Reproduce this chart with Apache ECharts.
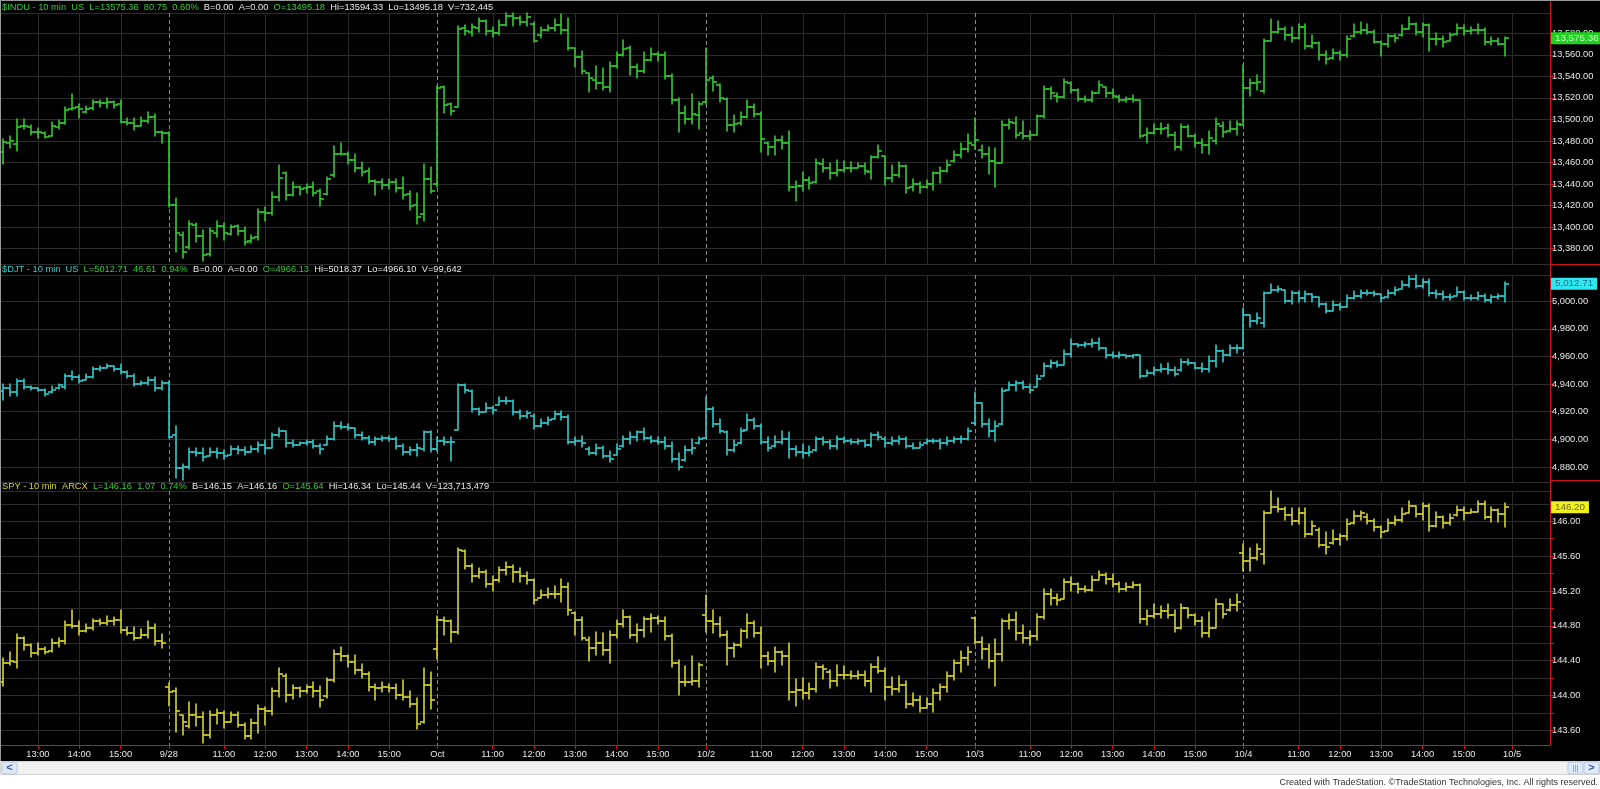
<!DOCTYPE html>
<html><head><meta charset="utf-8">
<script src="https://cdn.jsdelivr.net/npm/echarts@6/dist/echarts.min.js"></script>
<style>html,body{margin:0;padding:0;background:#000;overflow:hidden}#c{width:1600px;height:789px}</style>
</head><body><div id="c"></div>
<script>
// ---------- categories / tick labels ----------
const DAYS = ['9/27','9/28','Oct','10/2','10/3','10/4'];
const DAY_FIRST_MIN = [730, 580, 580, 580, 580, 580]; // 12:10, then 9:40
const CLOSE_MIN = 960; // 16:00
const HOUR_LABELS = ['11:00','12:00','13:00','14:00','15:00'];
const NEXT_DAY = '10/5';
const EMPTY_SLOTS = 6;

// ---------- headers ----------
const HEAD_INDU = ['$INDU - 10 min  US','L=13575.36  80.75  0.60%','B=0.00  A=0.00','O=13495.18','Hi=13594.33  Lo=13495.18  V=732,445'];
const HEAD_DJT  = ['$DJT - 10 min  US','L=5012.71  46.61  0.94%','B=0.00  A=0.00','O=4966.13','Hi=5018.37  Lo=4966.10  V=99,642'];
const HEAD_SPY  = ['SPY - 10 min  ARCX','L=146.16  1.07  0.74%','B=146.15  A=146.16','O=145.64','Hi=146.34  Lo=145.44  V=123,713,479'];
const MARK_INDU = '13,575.36', MARK_DJT = '5,012.71', MARK_SPY = '146.20';

// ---------- OHLC data [open, high, low, close] ----------
const INDU = [
[13470,13481,13459,13479],[13478,13484,13474,13480],[13477,13500,13471,13493],[13494,13500,13492,13494],[13493,13494,13486,13488],
[13488,13492,13483,13488],[13487,13488,13483,13484],[13485,13497,13485,13494],[13493,13499,13492,13497],[13497,13511,13496,13509],
[13510,13523,13509,13511],[13512,13514,13502,13510],[13507,13512,13506,13510],[13511,13518,13509,13516],[13516,13518,13512,13515],
[13515,13519,13511,13516],[13516,13517,13511,13513],[13514,13518,13497,13498],[13498,13501,13495,13497],[13497,13501,13491,13494],
[13494,13502,13494,13499],[13499,13506,13497,13502],[13502,13505,13485,13488],[13488,13489,13479,13487],
[13487,13488,13419,13421],[13421,13427,13377,13395],[13393,13395,13372,13377],[13382,13405,13380,13403],[13402,13403,13387,13392],
[13392,13397,13369,13374],[13375,13399,13374,13396],[13395,13405,13391,13401],[13401,13403,13389,13395],[13394,13402,13393,13400],
[13401,13402,13393,13396],[13396,13400,13384,13386],[13387,13392,13386,13390],[13391,13416,13389,13414],[13414,13418,13406,13413],
[13413,13432,13412,13428],[13428,13457,13425,13446],[13450,13451,13426,13430],[13430,13441,13429,13437],[13437,13438,13430,13435],
[13436,13440,13432,13437],[13437,13441,13429,13432],[13434,13435,13420,13426],[13431,13446,13430,13445],[13448,13475,13447,13468],
[13468,13478,13467,13468],[13468,13469,13459,13462],[13462,13467,13452,13455],[13455,13460,13448,13451],[13452,13454,13441,13443],
[13443,13443,13430,13442],[13442,13444,13436,13439],[13439,13444,13436,13442],[13442,13444,13433,13436],[13436,13446,13427,13430],
[13431,13433,13416,13420],[13421,13431,13403,13409],[13412,13458,13406,13445],[13445,13455,13432,13434],
[13440,13531,13438,13529],[13530,13531,13506,13513],[13514,13515,13505,13508],[13512,13586,13512,13584],[13585,13587,13579,13582],
[13581,13588,13578,13586],[13585,13594,13582,13591],[13591,13592,13579,13582],[13582,13585,13577,13580],[13580,13592,13579,13588],
[13588,13598,13587,13596],[13596,13598,13587,13594],[13594,13596,13588,13590],[13590,13598,13587,13595],[13589,13590,13572,13573],
[13578,13585,13576,13583],[13583,13587,13583,13585],[13585,13593,13583,13588],[13588,13597,13580,13583],[13583,13594,13565,13566],
[13566,13566,13549,13558],[13558,13563,13543,13545],[13543,13543,13526,13538],[13537,13549,13529,13534],[13534,13547,13528,13530],
[13530,13553,13526,13550],[13550,13562,13548,13560],[13560,13573,13559,13565],[13566,13568,13542,13549],[13549,13551,13539,13545],
[13545,13562,13544,13555],[13555,13566,13555,13561],[13561,13562,13555,13560],[13560,13562,13538,13540],[13540,13542,13515,13518],
[13518,13519,13489,13506],[13506,13512,13496,13500],[13500,13523,13496,13505],[13504,13516,13492,13514],
[13516,13566,13515,13537],[13538,13540,13527,13535],[13532,13532,13517,13520],[13519,13519,13490,13495],[13495,13504,13489,13496],
[13497,13506,13495,13502],[13502,13518,13502,13512],[13512,13514,13503,13505],[13505,13506,13470,13482],[13478,13479,13467,13474],
[13474,13484,13467,13481],[13481,13484,13473,13478],[13478,13489,13434,13437],[13437,13442,13425,13438],[13438,13451,13434,13444],
[13444,13446,13436,13441],[13442,13463,13441,13460],[13459,13463,13452,13455],[13455,13459,13445,13450],[13450,13462,13448,13453],
[13453,13461,13452,13455],[13455,13460,13452,13455],[13455,13459,13455,13457],[13457,13459,13450,13452],[13451,13466,13445,13465],
[13465,13476,13465,13471],[13466,13466,13440,13446],[13446,13457,13442,13448],[13448,13460,13447,13457],[13457,13457,13432,13436],
[13437,13444,13434,13440],[13440,13441,13432,13437],[13437,13443,13437,13440],[13440,13451,13435,13450],[13450,13455,13441,13452],
[13452,13462,13452,13458],[13461,13470,13461,13467],[13467,13478,13465,13473],[13473,13486,13470,13478],
[13476,13501,13473,13481],[13472,13476,13465,13468],[13468,13474,13450,13461],[13461,13473,13438,13460],[13460,13498,13460,13495],
[13495,13500,13492,13498],[13497,13502,13483,13486],[13487,13498,13482,13485],[13485,13489,13481,13486],[13486,13504,13486,13503],
[13503,13531,13502,13528],[13528,13530,13519,13525],[13522,13524,13517,13521],[13521,13537,13520,13535],[13534,13534,13525,13527],
[13527,13528,13518,13519],[13519,13521,13517,13518],[13518,13526,13517,13525],[13525,13535,13525,13532],[13530,13530,13521,13525],
[13525,13528,13520,13522],[13521,13522,13517,13518],[13518,13520,13517,13519],[13519,13522,13517,13518],[13518,13518,13483,13485],
[13486,13492,13479,13487],[13487,13495,13487,13491],[13491,13496,13487,13491],[13492,13495,13484,13486],[13486,13488,13472,13474],
[13474,13495,13472,13493],[13493,13494,13484,13485],[13485,13486,13475,13478],[13478,13481,13469,13476],[13476,13489,13468,13483],
[13480,13501,13478,13496],[13494,13497,13484,13488],[13489,13498,13489,13491],[13491,13498,13486,13496],
[13495.18,13550,13495.18,13529],[13529,13537,13522,13534],[13534,13541,13528,13535],[13526,13574,13525,13573],[13573,13593,13573,13581],
[13581,13591,13581,13584],[13584,13585,13574,13578],[13578,13585,13572,13576],[13576,13588,13575,13586],[13586,13588,13566,13568],
[13568,13578,13567,13571],[13571,13571,13556,13560],[13560,13563,13552,13556],[13557,13565,13557,13562],[13562,13563,13556,13560],
[13560,13577,13558,13575],[13577,13588,13577,13581],[13581,13590,13580,13583],[13583,13588,13580,13581],[13581,13583,13571,13572],
[13572,13572,13559,13570],[13570,13579,13568,13577],[13577,13579,13572,13576],[13578,13587,13578,13584],[13584,13594.33,13584,13589],
[13589,13589,13579,13581],[13581,13589,13577,13588],[13588,13588,13564,13575],[13575,13580,13570,13575],[13575,13577,13568,13572],
[13573,13580,13573,13578],[13579,13588,13579,13585],[13585,13587,13579,13582],[13582,13585,13580,13583],[13583,13588,13580,13583],
[13583,13584,13570,13572],[13572,13576,13570,13573],[13573,13575,13570,13570],[13570,13576,13559,13575.36]
];
const DJT = [
[4935,4940,4929,4937],[4937,4940,4932,4934],[4934,4943,4932,4942],[4942,4943,4937,4938],[4938,4938,4936,4937],
[4937,4937,4935,4936],[4936,4936,4932,4933],[4934,4938,4934,4936],[4937,4940,4937,4939],[4938,4947,4937,4946],
[4946,4949,4943,4945],[4945,4946,4941,4942],[4943,4947,4943,4945],[4945,4952,4945,4951],[4951,4953,4950,4952],
[4952,4954,4952,4953],[4953,4953,4950,4951],[4951,4954,4948,4949],[4949,4949,4945,4946],[4946,4947,4939,4940],
[4940,4942,4940,4941],[4941,4945,4940,4943],[4943,4945,4935,4937],[4937,4942,4936,4941],
[4941,4942,4901,4902],[4903,4909,4872,4879],[4879,4882,4871,4880],[4880,4893,4879,4891],[4891,4893,4888,4890],
[4890,4893,4885,4887],[4888,4893,4888,4891],[4891,4893,4887,4890],[4890,4892,4886,4888],[4889,4895,4889,4893],
[4893,4895,4890,4892],[4892,4894,4889,4891],[4891,4895,4891,4893],[4893,4898,4891,4896],[4896,4899,4890,4894],
[4894,4904,4894,4903],[4903,4908,4902,4906],[4906,4906,4895,4897],[4897,4899,4895,4896],[4896,4898,4896,4897],
[4897,4899,4896,4898],[4898,4899,4894,4895],[4895,4896,4890,4893],[4896,4902,4896,4900],[4900,4912,4900,4910],
[4910,4912,4908,4909],[4909,4911,4907,4908],[4908,4908,4901,4903],[4903,4905,4900,4901],[4901,4902,4897,4898],
[4898,4901,4896,4900],[4900,4902,4899,4901],[4901,4902,4899,4900],[4900,4901,4893,4895],[4895,4896,4889,4891],
[4891,4894,4889,4892],[4892,4896,4888,4894],[4893,4906,4892,4905],[4905,4906,4891,4893],
[4893,4901,4892,4899],[4899,4901,4896,4898],[4898,4901,4885,4898],[4907,4940,4907,4939],[4939,4940,4934,4936],
[4935,4935,4920,4922],[4922,4922,4918,4920],[4920,4926,4920,4923],[4923,4924,4919,4921],[4925,4930,4925,4928],
[4928,4930,4926,4928],[4928,4928,4918,4920],[4920,4921,4915,4917],[4917,4920,4916,4919],[4917,4918,4908,4910],
[4910,4914,4909,4912],[4912,4916,4911,4914],[4915,4920,4915,4918],[4918,4920,4914,4916],[4916,4917,4897,4898],
[4898,4901,4896,4899],[4899,4902,4895,4897],[4893,4894,4889,4890],[4890,4896,4889,4894],[4894,4895,4887,4888],
[4888,4891,4884,4886],[4889,4896,4889,4893],[4895,4902,4895,4900],[4900,4905,4897,4902],[4902,4906,4899,4905],
[4905,4908,4900,4901],[4901,4902,4898,4899],[4899,4901,4897,4898],[4898,4901,4893,4895],[4895,4898,4884,4886],
[4886,4890,4878,4880],[4885,4895,4885,4892],[4892,4900,4890,4894],[4897,4901,4897,4900],
[4901,4930,4901,4922],[4922,4923,4909,4911],[4911,4914,4905,4906],[4905,4906,4889,4892],[4892,4899,4891,4896],
[4897,4908,4897,4906],[4907,4918,4907,4914],[4914,4915,4908,4910],[4910,4911,4897,4898],[4898,4901,4892,4894],
[4895,4902,4895,4898],[4898,4906,4897,4900],[4900,4905,4887,4893],[4893,4895,4888,4891],[4891,4896,4887,4890],
[4890,4895,4888,4891],[4892,4901,4892,4900],[4900,4901,4896,4898],[4898,4899,4893,4895],[4895,4902,4893,4900],
[4900,4901,4898,4899],[4899,4900,4897,4898],[4898,4900,4897,4899],[4899,4899,4895,4896],[4896,4904,4895,4903],
[4903,4905,4900,4902],[4900,4901,4895,4897],[4897,4901,4896,4899],[4899,4902,4897,4900],[4900,4901,4894,4895],
[4895,4897,4893,4894],[4894,4898,4894,4896],[4897,4900,4897,4899],[4899,4900,4898,4899],[4899,4900,4893,4897],
[4897,4901,4896,4899],[4899,4901,4898,4900],[4900,4902,4898,4900],[4900,4908,4900,4906],
[4912,4934,4911,4926],[4926,4926,4909,4911],[4911,4914,4902,4906],[4906,4913,4899,4910],[4911,4937,4911,4935],
[4936,4941,4936,4939],[4939,4942,4935,4941],[4941,4942,4937,4938],[4938,4940,4934,4936],[4938,4946,4938,4944],
[4946,4955,4946,4953],[4953,4957,4952,4955],[4955,4956,4953,4954],[4954,4964,4954,4962],[4962,4972,4960,4969],
[4969,4969,4967,4968],[4968,4970,4967,4969],[4969,4972,4967,4970],[4970,4973,4965,4966],[4966,4966,4959,4961],
[4961,4963,4959,4960],[4960,4963,4959,4961],[4961,4961,4959,4960],[4960,4961,4959,4961],[4961,4961,4945,4946],
[4946,4950,4946,4948],[4948,4952,4947,4950],[4950,4954,4949,4951],[4951,4955,4948,4950],[4950,4952,4946,4947],
[4950,4958,4950,4956],[4956,4958,4954,4955],[4955,4955,4951,4952],[4952,4955,4949,4951],[4951,4960,4949,4957],
[4957,4968,4953,4964],[4964,4964,4956,4961],[4961,4968,4961,4966],[4966,4968,4963,4966],
[4966.13,4995,4966.10,4990],[4990,4990,4982,4986],[4986,4991,4984,4988],[4984,5006,4982,5006],[5006,5012,5006,5008],
[5008,5011,5007,5009],[5008,5008,4999,5000],[5000,5007,4998,5006],[5006,5007,5000,5002],[5002,5007,5000,5005],
[5005,5005,5000,5003],[5003,5003,4996,4998],[4998,4998,4992,4993],[4993,5000,4993,4997],[4997,4998,4994,4996],
[4996,5004,4996,5002],[5002,5007,5002,5004],[5004,5008,5003,5006],[5006,5008,5005,5006],[5006,5007,5004,5005],
[5005,5005,5000,5002],[5003,5008,5003,5006],[5006,5010,5005,5008],[5009,5014,5009,5012],[5012,5018,5011,5016],
[5016,5018.37,5010,5011],[5011,5016,5010,5014],[5014,5016,5004,5006],[5006,5008,5003,5005],[5005,5007,5001,5003],
[5003,5005,5001,5003],[5004,5010,5004,5007],[5007,5007,5001,5002],[5002,5004,5001,5002],[5002,5006,5001,5004],
[5004,5005,5000,5001],[5001,5004,4999,5003],[5003,5005,5002,5004],[5004,5013.5,5000,5012.71]
];
const SPY = [
[144.16,144.43,144.12,144.37],[144.37,144.49,144.35,144.40],[144.38,144.70,144.32,144.66],[144.66,144.67,144.53,144.58],[144.58,144.58,144.45,144.49],
[144.49,144.60,144.47,144.53],[144.53,144.55,144.48,144.50],[144.51,144.64,144.51,144.60],[144.60,144.65,144.56,144.62],[144.62,144.85,144.60,144.81],
[144.81,144.97,144.78,144.80],[144.80,144.85,144.70,144.74],[144.74,144.81,144.74,144.78],[144.78,144.87,144.76,144.85],[144.85,144.87,144.81,144.83],
[144.83,144.91,144.81,144.86],[144.86,144.90,144.81,144.87],[144.87,144.97,144.72,144.75],[144.75,144.78,144.70,144.72],[144.72,144.78,144.64,144.66],
[144.66,144.76,144.66,144.70],[144.70,144.85,144.66,144.78],[144.78,144.81,144.58,144.62],[144.62,144.70,144.55,144.60],
[144.10,144.14,143.89,144.04],[144.05,144.08,143.59,143.82],[143.77,143.77,143.55,143.70],[143.65,143.92,143.63,143.78],[143.78,143.90,143.65,143.75],
[143.75,143.80,143.46,143.55],[143.55,143.82,143.52,143.78],[143.78,143.84,143.68,143.80],[143.80,143.82,143.63,143.70],[143.70,143.80,143.70,143.78],
[143.78,143.80,143.64,143.66],[143.66,143.68,143.50,143.53],[143.53,143.72,143.50,143.68],[143.68,143.88,143.57,143.85],[143.85,143.86,143.67,143.82],
[143.82,144.08,143.78,144.05],[144.05,144.31,143.99,144.25],[144.22,144.24,143.93,144.00],[144.00,144.12,143.97,144.08],[144.08,144.09,143.99,144.05],
[144.05,144.12,144.03,144.10],[144.10,144.15,143.99,144.05],[144.05,144.10,143.87,143.95],[143.99,144.20,143.98,144.18],[144.18,144.52,144.16,144.48],
[144.48,144.55,144.40,144.45],[144.45,144.46,144.33,144.38],[144.38,144.46,144.25,144.29],[144.29,144.36,144.21,144.25],[144.25,144.26,144.06,144.10],
[144.10,144.13,143.95,144.08],[144.08,144.15,144.04,144.10],[144.10,144.13,144.04,144.08],[144.08,144.13,143.97,144.00],[144.00,144.17,143.95,143.98],
[143.98,144.05,143.87,143.90],[143.90,143.96,143.62,143.67],[143.70,144.31,143.69,144.12],[144.12,144.26,143.85,143.95],
[144.53,144.91,144.42,144.87],[144.87,144.89,144.70,144.85],[144.85,144.86,144.62,144.73],[144.73,145.69,144.71,145.67],[145.66,145.66,145.46,145.49],
[145.49,145.50,145.31,145.37],[145.37,145.46,145.35,145.42],[145.42,145.43,145.25,145.28],[145.28,145.37,145.20,145.33],[145.33,145.47,145.31,145.44],
[145.44,145.53,145.39,145.47],[145.47,145.49,145.31,145.42],[145.42,145.46,145.31,145.37],[145.37,145.41,145.29,145.33],[145.33,145.33,145.06,145.10],
[145.12,145.20,145.12,145.15],[145.15,145.23,145.13,145.17],[145.17,145.25,145.12,145.16],[145.16,145.33,145.08,145.25],[145.25,145.29,144.93,144.98],
[144.95,144.95,144.70,144.87],[144.87,144.90,144.64,144.66],[144.64,144.66,144.40,144.55],[144.55,144.72,144.47,144.60],[144.60,144.71,144.47,144.52],
[144.52,144.73,144.38,144.70],[144.70,144.86,144.67,144.82],[144.82,144.98,144.79,144.90],[144.90,144.91,144.67,144.70],[144.70,144.81,144.62,144.75],
[144.75,144.90,144.68,144.88],[144.88,144.93,144.74,144.89],[144.89,144.91,144.83,144.86],[144.86,144.89,144.64,144.68],[144.68,144.70,144.33,144.37],
[144.37,144.40,144.01,144.15],[144.15,144.33,144.12,144.16],[144.16,144.45,144.13,144.17],[144.17,144.37,144.10,144.35],
[144.92,145.15,144.74,144.86],[144.86,144.97,144.72,144.82],[144.82,144.89,144.68,144.70],[144.70,144.73,144.36,144.55],[144.55,144.60,144.45,144.58],
[144.58,144.76,144.56,144.74],[144.74,144.93,144.67,144.83],[144.83,144.85,144.68,144.72],[144.72,144.78,144.32,144.45],[144.45,144.49,144.35,144.40],
[144.40,144.55,144.28,144.50],[144.50,144.51,144.36,144.45],[144.45,144.60,143.95,144.04],[144.04,144.18,143.88,144.06],[144.06,144.20,143.97,144.03],
[144.03,144.14,143.97,144.07],[144.07,144.37,144.05,144.33],[144.33,144.34,144.20,144.30],[144.27,144.29,144.09,144.17],[144.17,144.34,144.12,144.24],
[144.24,144.33,144.20,144.23],[144.23,144.28,144.19,144.22],[144.22,144.27,144.20,144.24],[144.24,144.28,144.11,144.17],[144.17,144.36,144.05,144.33],
[144.33,144.44,144.26,144.28],[144.28,144.31,143.95,144.10],[144.10,144.21,144.01,144.07],[144.07,144.22,144.05,144.12],[144.12,144.16,143.86,143.90],
[143.90,144.02,143.88,143.95],[143.95,143.99,143.82,143.86],[143.86,143.97,143.86,143.90],[143.90,144.07,143.82,144.03],[144.03,144.13,143.95,144.10],
[144.10,144.26,144.05,144.22],[144.22,144.40,144.18,144.37],[144.37,144.50,144.27,144.43],[144.43,144.55,144.35,144.50],
[144.89,144.89,144.60,144.61],[144.61,144.67,144.43,144.53],[144.53,144.58,144.32,144.40],[144.40,144.64,144.12,144.48],[144.48,144.87,144.40,144.85],
[144.85,144.93,144.77,144.87],[144.87,144.95,144.64,144.72],[144.72,144.80,144.61,144.66],[144.66,144.74,144.58,144.68],[144.68,144.93,144.64,144.90],
[144.90,145.22,144.88,145.17],[145.17,145.22,145.04,145.12],[145.12,145.16,145.05,145.10],[145.11,145.33,145.11,145.30],[145.30,145.35,145.20,145.28],
[145.28,145.28,145.18,145.22],[145.22,145.25,145.19,145.21],[145.21,145.37,145.20,145.33],[145.33,145.42,145.33,145.38],[145.38,145.40,145.28,145.34],
[145.34,145.39,145.25,145.28],[145.28,145.30,145.19,145.22],[145.22,145.28,145.20,145.24],[145.24,145.30,145.24,145.27],[145.27,145.27,144.84,144.88],
[144.88,144.97,144.81,144.91],[144.91,145.04,144.89,144.93],[144.93,145.02,144.89,144.97],[144.97,145.04,144.89,144.92],[144.92,144.97,144.74,144.78],
[144.78,145.04,144.77,145.00],[145.00,145.00,144.89,144.92],[144.92,144.93,144.81,144.85],[144.85,144.90,144.68,144.72],[144.72,144.95,144.68,144.78],
[144.78,145.10,144.78,145.05],[145.05,145.05,144.89,144.93],[144.98,145.10,144.97,145.04],[145.04,145.16,144.97,145.07],
[145.64,145.73,145.44,145.54],[145.54,145.69,145.44,145.58],[145.58,145.73,145.56,145.68],[145.62,146.11,145.51,146.10],[146.10,146.34,146.10,146.16],
[146.16,146.26,146.11,146.14],[146.14,146.16,146.02,146.07],[146.07,146.15,145.96,146.00],[146.00,146.15,145.97,146.10],[146.10,146.15,145.82,145.85],
[145.85,146.00,145.85,145.95],[145.90,145.92,145.71,145.73],[145.73,145.87,145.63,145.71],[145.75,145.89,145.75,145.80],[145.80,145.85,145.73,145.83],
[145.83,146.02,145.79,145.97],[145.98,146.11,145.98,146.06],[146.06,146.11,146.02,146.09],[146.05,146.08,145.98,146.00],[146.00,146.02,145.89,145.93],
[145.93,145.94,145.81,145.88],[145.89,146.02,145.89,145.98],[145.98,146.05,145.96,146.02],[146.02,146.15,146.00,146.08],[146.10,146.23,146.10,146.17],
[146.17,146.17,146.05,146.08],[146.08,146.20,146.02,146.17],[146.17,146.19,145.89,145.95],[145.95,146.10,145.94,146.05],[146.05,146.05,145.93,145.98],
[145.98,146.08,145.96,146.04],[146.07,146.17,146.07,146.13],[146.13,146.16,146.02,146.10],[146.10,146.13,146.10,146.11],[146.11,146.23,146.11,146.20],
[146.20,146.23,146.03,146.05],[146.05,146.16,146.00,146.13],[146.13,146.13,146.00,146.08],[146.08,146.20,145.94,146.16]
];

// ---------- styling / layout ----------
const FONT = "'Liberation Sans',Arial,sans-serif";
const FS = 9.3;
const RED = '#d41414', GRIDC = '#2c2c2c', DAYC = '#8a8a8a', TXT = '#e8e8e8';
const COL = ['#33cc33', '#33cccc', '#d6d633'];
const HEADCOL = '#33cc33';
const PANELS = [
  {top: 13,  height: 251, min: 13365.8, max: 13598.8, step: 20, labStep: 20},
  {top: 275, height: 207, min: 4869.1,  max: 5019.0,  step: 20, labStep: 20},
  {top: 491, height: 254, min: 143.431, max: 146.348, step: 0.2, labStep: 0.4}
];
const MARKS = [
  {bg: '#1fd21f', fg: '#c8ffc8'},
  {bg: '#2ee8f0', fg: '#2a6f90'},
  {bg: '#f0f020', fg: '#6a6a20'}
];

// ---------- build categories ----------
const cats = [], tickLabels = [], dayStart = [];
DAYS.forEach((d, k) => {
  for (let m = DAY_FIRST_MIN[k]; m <= CLOSE_MIN; m += 10) {
    const t = Math.floor(m / 60) + ':' + String(m % 60).padStart(2, '0');
    cats.push(d + ' ' + t);
    let lab = '', isDay = false;
    if (k > 0 && m === DAY_FIRST_MIN[k]) { lab = d; isDay = true; }
    else if (HOUR_LABELS.includes(t)) lab = t;
    tickLabels.push(lab); dayStart.push(isDay);
  }
});
for (let j = 0; j < EMPTY_SLOTS; j++) { cats.push(NEXT_DAY + '#' + j); tickLabels.push(j === 0 ? NEXT_DAY : ''); dayStart.push(false); }
const vLines = [];
tickLabels.forEach((l, i) => { if (l) vLines.push([i, dayStart[i] ? 1 : 0]); });

function comma2(v) { const s = v.toFixed(2).split('.'); return s[0].replace(/\B(?=(\d{3})+(?!\d))/g, ',') + '.' + s[1]; }

function ohlcRender(color) {
  return function (params, api) {
    const i = api.value(0);
    const o = api.coord([i, api.value(1)]), h = api.coord([i, api.value(2)]);
    const l = api.coord([i, api.value(3)]), c = api.coord([i, api.value(4)]);
    const x = Math.round(o[0]);
    const top = Math.min(h[1], l[1], o[1], c[1]), bot = Math.max(h[1], l[1], o[1], c[1]);
    const st = {stroke: color, lineWidth: 1.6};
    const yo = Math.round(o[1]), yc = Math.round(c[1]);
    return {type: 'group', children: [
      {type: 'line', shape: {x1: x, y1: Math.floor(top) - 0.5, x2: x, y2: Math.ceil(bot) + 0.5}, style: st},
      {type: 'line', shape: {x1: x - 4, y1: yo, x2: x, y2: yo}, style: st},
      {type: 'line', shape: {x1: x, y1: yc, x2: x + 4, y2: yc}, style: st}
    ]};
  };
}
function vlineRender(params, api) {
  const cs = params.coordSys;
  const x = Math.round(api.coord([api.value(0), PANELS[params.seriesIndex % 3].min])[0]) + 0.5;
  const dashed = api.value(1) === 1;
  return {type: 'line', shape: {x1: x, y1: cs.y, x2: x, y2: cs.y + cs.height},
    style: {stroke: dashed ? DAYC : GRIDC, lineWidth: 1, lineDash: dashed ? [4, 3] : null}};
}

const grids = [], xAxes = [], yAxes = [], series = [];
const datasets = [INDU, DJT, SPY];
const markTexts = [MARK_INDU, MARK_DJT, MARK_SPY];
PANELS.forEach((p, k) => {
  grids.push({left: 0, right: 50, top: p.top, height: p.height, containLabel: false});
  const isBottom = k === 2;
  xAxes.push({
    type: 'category', gridIndex: k, data: cats, boundaryGap: true,
    axisLine: {show: isBottom, lineStyle: {color: RED, width: 1}},
    axisTick: {show: isBottom, alignWithLabel: true, interval: (i) => tickLabels[i] !== '', length: 4, lineStyle: {color: RED}},
    axisLabel: {show: isBottom, interval: (i) => tickLabels[i] !== '', formatter: (v, i) => tickLabels[i],
      color: TXT, fontSize: FS, fontFamily: FONT, margin: 5},
    splitLine: {show: false}
  });
  const ls = p.labStep;
  yAxes.push({
    type: 'value', gridIndex: k, position: 'right', min: p.min, max: p.max,
    minInterval: p.step, maxInterval: p.step, splitNumber: 20,
    axisLine: {show: false},
    axisTick: {show: true, length: 4, lineStyle: {color: RED}},
    splitLine: {show: true, lineStyle: {color: GRIDC, width: 1}},
    axisLabel: {color: TXT, fontSize: FS, fontFamily: FONT, margin: 2, showMinLabel: false, showMaxLabel: false,
      formatter: (v) => (Math.abs(v / ls - Math.round(v / ls)) < 1e-6 ? comma2(v) : '')}
  });
});
PANELS.forEach((p, k) => {
  series.push({type: 'custom', xAxisIndex: k, yAxisIndex: k, z: 1, silent: true,
    renderItem: vlineRender, data: vLines, encode: {x: 0, y: 1}});
});
PANELS.forEach((p, k) => {
  const rows = datasets[k];
  series.push({type: 'custom', xAxisIndex: k, yAxisIndex: k, z: 3, silent: true,
    renderItem: ohlcRender(COL[k]), encode: {x: 0, y: [1, 2, 3, 4]},
    data: rows.map((r, i) => [i, r[0], r[1], r[2], r[3]]),
    markLine: {silent: true, symbol: 'none', animation: false, z: 20,
      lineStyle: {color: 'rgba(0,0,0,0)', width: 1, type: 'solid'},
      label: {show: true, position: 'end', distance: 1, formatter: markTexts[k],
        backgroundColor: MARKS[k].bg, color: MARKS[k].fg, fontSize: FS + 0.5, fontFamily: FONT, fontWeight: 'normal',
        padding: [1, 4, 0, 4], lineHeight: 11},
      data: [{yAxis: rows[rows.length - 1][3]}]}
  });
});

function head(parts) {
  return '{n|' + parts[0] + '}  {g|' + parts[1] + '}  {w|' + parts[2] + '}  {g|' + parts[3] + '}  {w|' + parts[4] + '}';
}
const richFor = (nameColor) => ({
  n: {color: nameColor, fontSize: FS, fontFamily: FONT, fontWeight: 'normal'},
  g: {color: HEADCOL, fontSize: FS, fontFamily: FONT, fontWeight: 'normal'},
  w: {color: TXT, fontSize: FS, fontFamily: FONT, fontWeight: 'normal'}
});
const titleStyle = (c) => ({fontSize: FS, fontFamily: FONT, fontWeight: 'normal', rich: richFor(c)});

const option = {
  backgroundColor: '#000',
  animation: false,
  title: [
    {text: head(HEAD_INDU), left: 2, top: 3, padding: 0, textStyle: titleStyle(COL[0])},
    {text: head(HEAD_DJT), left: 2, top: 265, padding: 0, textStyle: titleStyle(COL[1])},
    {text: head(HEAD_SPY), left: 2, top: 481.5, padding: 0, textStyle: titleStyle(COL[2])}
  ],
  grid: grids, xAxis: xAxes, yAxis: yAxes, series: series,
  graphic: [
    {type: 'line', shape: {x1: 1550.5, y1: 0, x2: 1550.5, y2: 745}, style: {stroke: RED, lineWidth: 1}, z: 10},
    {type: 'line', shape: {x1: 1550, y1: 264.5, x2: 1600, y2: 264.5}, style: {stroke: RED, lineWidth: 1}, z: 10},
    {type: 'line', shape: {x1: 1550, y1: 480.5, x2: 1600, y2: 480.5}, style: {stroke: RED, lineWidth: 1}, z: 10},
    {type: 'line', shape: {x1: 0, y1: 0.5, x2: 1600, y2: 0.5}, style: {stroke: '#9a9a9a', lineWidth: 1}, z: 10},
    {type: 'line', shape: {x1: 0.5, y1: 0, x2: 0.5, y2: 761}, style: {stroke: '#9a9a9a', lineWidth: 1}, z: 10},
    {type: 'rect', shape: {x: 0, y: 761, width: 1600, height: 28}, style: {fill: '#ffffff'}, z: 10},
    {type: 'rect', shape: {x: 0.5, y: 761.5, width: 1599, height: 13}, style: {fill: '#f1f1f1', stroke: '#d4d4d4'}, z: 11},
    {type: 'rect', shape: {x: 2, y: 762, width: 15, height: 12, r: 2}, style: {fill: '#dfe8f7', stroke: '#b8c8e4'}, z: 12},
    {type: 'text', style: {text: '<', x: 9.5, y: 768, fill: '#3a5aa0', font: 'bold 11px ' + FONT, align: 'center', verticalAlign: 'middle'}, z: 13},
    {type: 'rect', shape: {x: 1568, y: 762, width: 15, height: 12, r: 2}, style: {fill: '#dfe8f7', stroke: '#b8c8e4'}, z: 12},
    {type: 'text', style: {text: '|||', x: 1575.5, y: 768, fill: '#7a8ab0', font: '8px ' + FONT, align: 'center', verticalAlign: 'middle'}, z: 13},
    {type: 'rect', shape: {x: 1584, y: 762, width: 15, height: 12, r: 2}, style: {fill: '#dfe8f7', stroke: '#b8c8e4'}, z: 12},
    {type: 'text', style: {text: '>', x: 1591.5, y: 768, fill: '#3a5aa0', font: 'bold 11px ' + FONT, align: 'center', verticalAlign: 'middle'}, z: 13},
    {type: 'text', style: {text: 'Created with TradeStation. \u00A9TradeStation Technologies, Inc. All rights reserved.', x: 1598, y: 783,
      fill: '#333333', font: '9px ' + FONT, align: 'right', verticalAlign: 'middle'}, z: 13}
  ]
};
const chart = echarts.init(document.getElementById('c'), null, {renderer: 'canvas'});
chart.setOption(option);
</script>
</body></html>
